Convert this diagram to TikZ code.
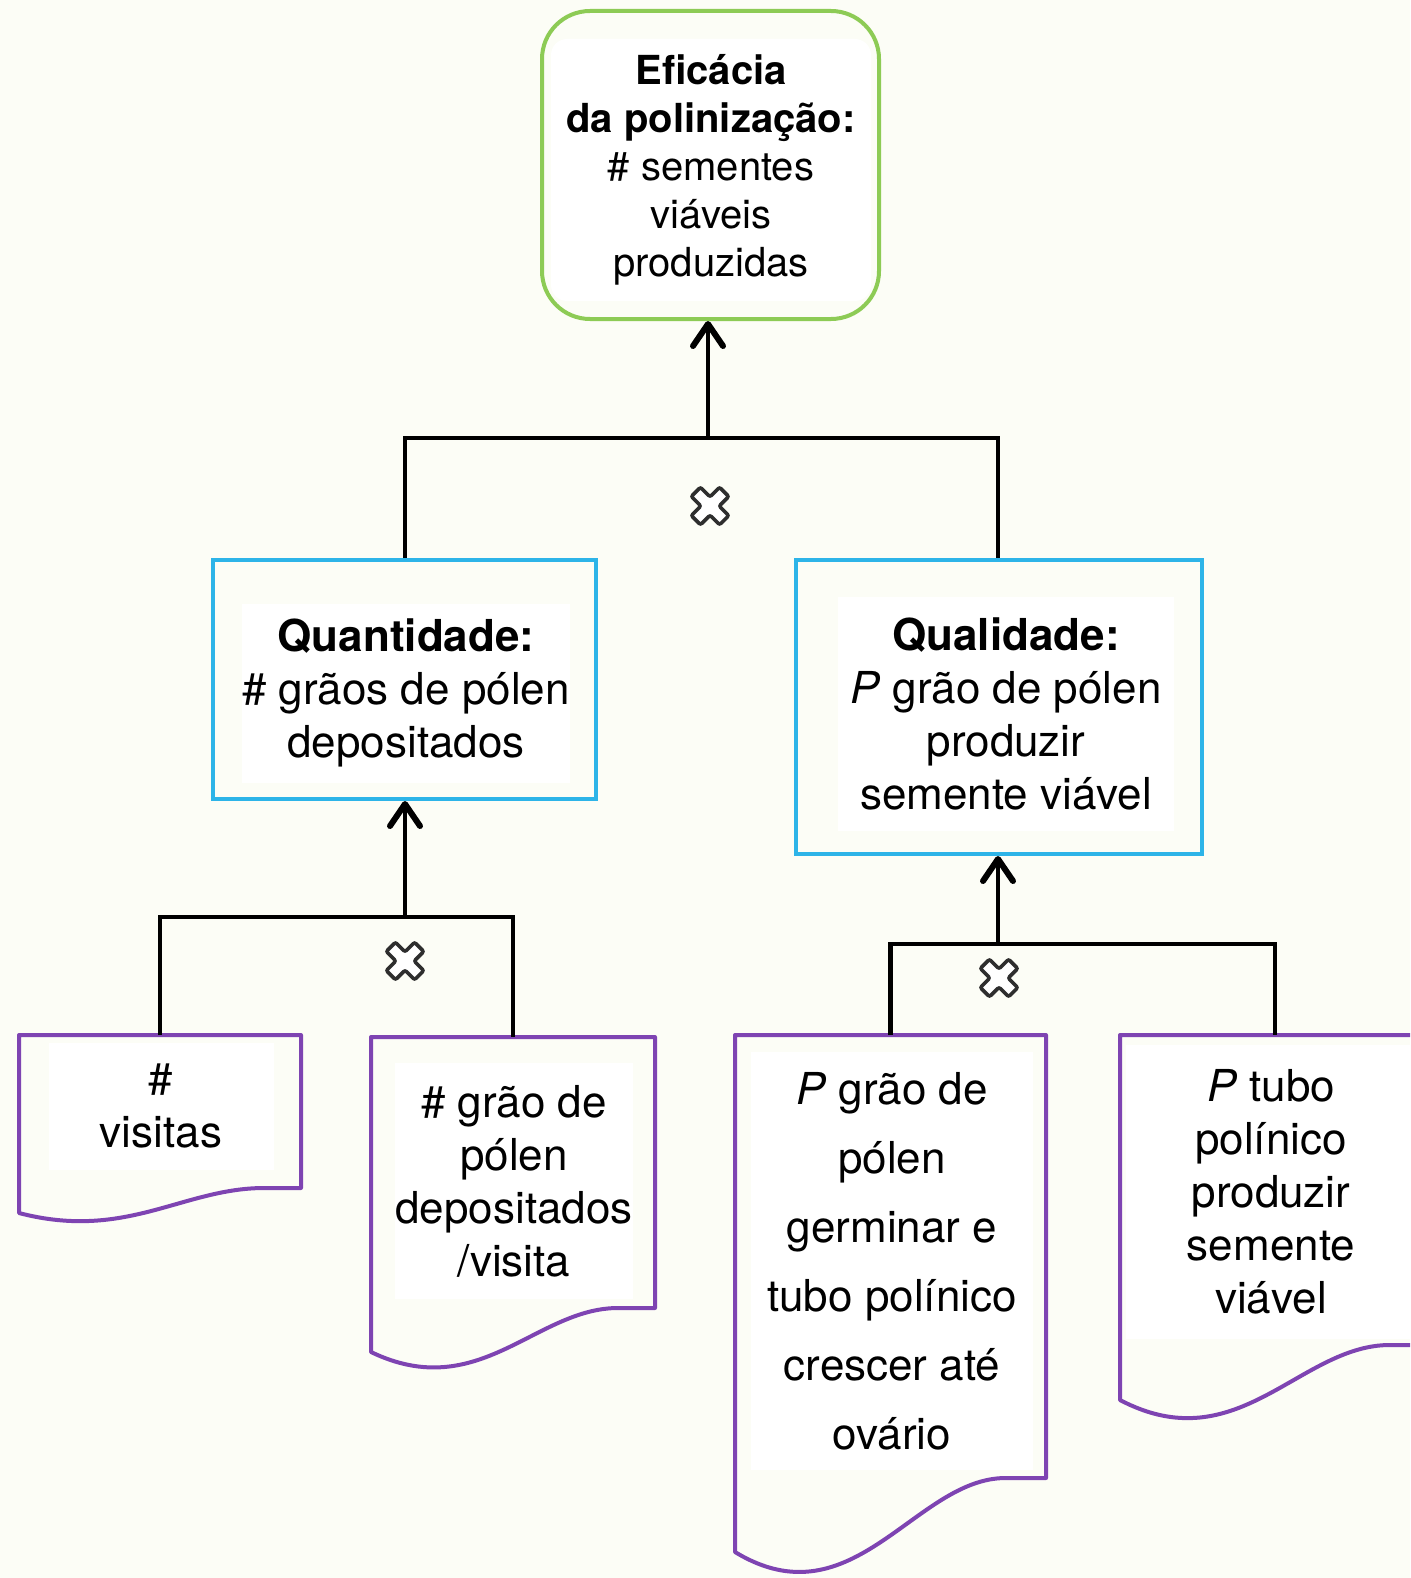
\documentclass[tikz,border=0pt]{standalone}
\usepackage{fontspec}
\setmainfont{TeX Gyre Heros}
\usetikzlibrary{arrows.meta}
\definecolor{paper}{HTML}{FCFDF6}
\definecolor{leaf}{HTML}{8DCB55}
\definecolor{sky}{HTML}{2DB4E8}
\definecolor{grape}{HTML}{7E44B2}
\definecolor{xgray}{HTML}{2E2E2E}
\tikzset{
  frame/.style={draw, line width=4pt, fill=none, inner sep=0pt},
  txt/.style={fill=white, align=center, inner sep=0pt,
    font=\fontsize{44}{53}\selectfont},
  docline/.style={draw=grape, line width=4pt, line join=round},
  conn/.style={line width=4.5pt, draw=black},
  arr/.style={conn, -{Straight Barb[length=22pt,width=30pt,line width=6pt,round]}},
  xsym/.pic={\draw[line width=3.6pt, draw=xgray, fill=white, rounded corners=2pt, rotate=45]
    (-6.5,-20) -- (6.5,-20) -- (6.5,-6.5) -- (20,-6.5) -- (20,6.5) -- (6.5,6.5) --
    (6.5,20) -- (-6.5,20) -- (-6.5,6.5) -- (-20,6.5) -- (-20,-6.5) -- (-6.5,-6.5) -- cycle;}
}
% document shape: name, left x, right x, top y, bottom-left y, bottom-right y, dip
\newcommand\docbox[7]{%
  \coordinate (#1) at ({(#2+#3)/2},#4);
  \draw[docline] (#2,#5) -- (#2,#4) -- (#3,#4) -- (#3,#6) --
    ({#2+0.87*(#3-#2)},#6) .. controls ({#2+0.58*(#3-#2)},#6) and ({#2+0.38*(#3-#2)},{#5+#7}) .. (#2,#5) -- cycle;
}
\begin{document}
\begin{tikzpicture}[x=1pt,y=-1pt]
\fill[paper] (0,0) rectangle (1410,1578);
\useasboundingbox (0,0) rectangle (1410,1578);
\clip (0,0) rectangle (1410,1578);

% top: pollination efficacy
\node[txt, rounded corners=16pt, minimum width=320pt, minimum height=262pt,
  font=\fontsize{40}{48}\selectfont] (toptxt) at (711,170)
  {\textbf{Eficácia}\\\textbf{da polinização:}\\\# sementes\\viáveis\\produzidas};
\node[frame, draw=leaf, rounded corners=48pt, minimum width=337pt, minimum height=308pt] (top) at (710.5,165) {};

% middle: quantity and quality
\node[txt, minimum width=322pt, minimum height=179pt] (qtdtxt) at (406,693)
  {\textbf{Quantidade:}\\\# grãos de pólen\\depositados};
\node[frame, draw=sky, minimum width=383pt, minimum height=239pt] (qtd) at (404.5,679.5) {};

\node[txt, minimum width=336pt, minimum height=234pt] (qualtxt) at (1006,714)
  {\textbf{Qualidade:}\\\textit{P} grão de pólen\\produzir\\semente viável};
\node[frame, draw=sky, minimum width=406pt, minimum height=294pt] (qual) at (999,707) {};

% bottom: leaf factors
\node[txt, minimum width=225pt, minimum height=127pt] (vistxt) at (161,1106) {\#\\visitas};
\docbox{vis}{19}{301}{1035}{1213}{1188}{28}

\node[txt, minimum width=229pt, minimum height=236pt] (gptxt) at (514,1181)
  {\# grão de\\pólen\\depositados\\/visita};
\docbox{gp}{371}{655}{1037}{1352}{1308}{52}

\node[txt, minimum width=282pt, minimum height=418pt, font=\fontsize{44}{69}\selectfont] (gertxt) at (892,1261)
  {\textit{P} grão de\\pólen\\germinar e\\tubo polínico\\crescer até\\ovário};
\docbox{ger}{735}{1046}{1035}{1552}{1478}{72}

\node[txt, minimum width=290pt, minimum height=294pt] (tubtxt) at (1271,1192)
  {\textit{P} tubo\\polínico\\produzir\\semente\\viável};
\docbox{tub}{1120}{1430}{1035}{1400}{1345}{62}

% junctions
\coordinate (j1) at (708,438);
\coordinate (j2) at (405,917);
\coordinate (j3) at (998,944);

\draw[conn] (qtd.north -| 405,0) |- (j1) -| (qual.north -| 998,0);
\draw[arr] (j1) -- (j1 |- top.south);

\draw[conn] (vis) |- (j2) -| (gp);
\draw[arr] (j2) -- (j2 |- qtd.south);

\draw[conn] (ger) |- (j3) -| (tub);
\draw[arr] (j3) -- (j3 |- qual.south);

% multiplication marks
\pic at (710,506) {xsym};
\pic at (405,961) {xsym};
\pic at (999,978) {xsym};
\end{tikzpicture}
\end{document}
